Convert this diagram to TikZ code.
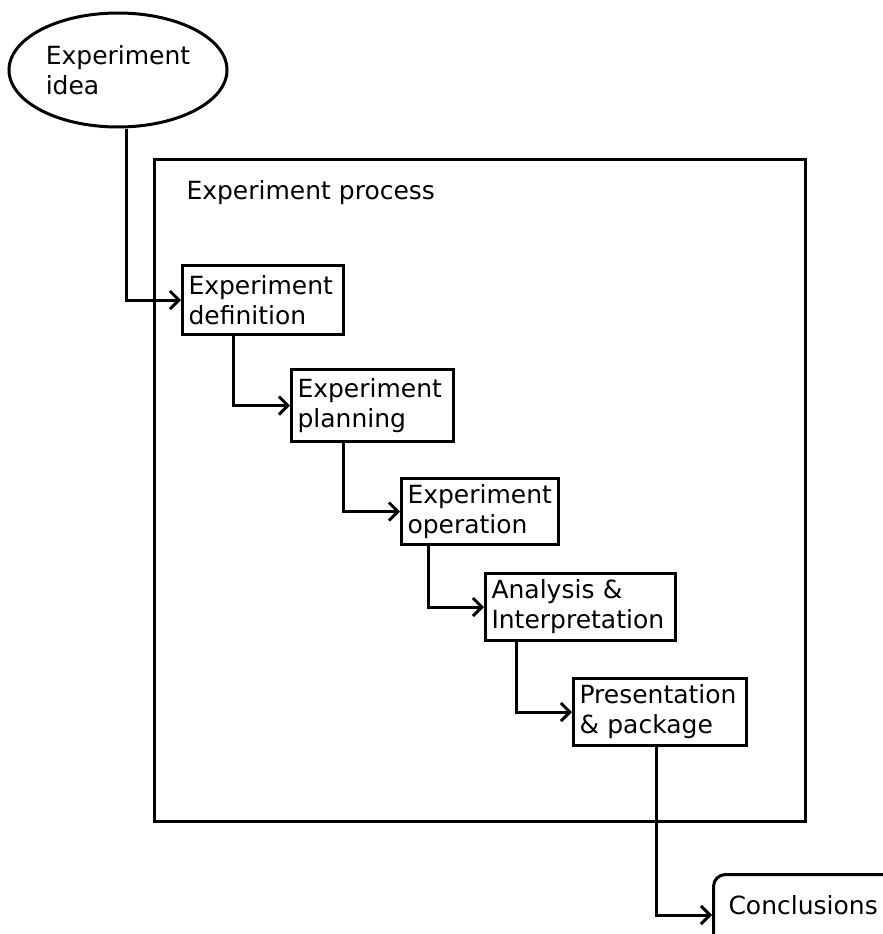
\documentclass[tikz,border=0pt]{standalone}
\usepackage{fontspec}
\setmainfont{DejaVu Sans}
\usetikzlibrary{shapes.geometric,arrows.meta}
\begin{document}
\begin{tikzpicture}[x=1pt, y=-1pt, line width=3pt,
  stage/.style={draw, anchor=north west, align=left, inner xsep=6pt, inner ysep=0pt},
  flow/.style={-{Straight Barb[length=9pt,width=18pt]}}]

  \fontsize{25}{30}\selectfont
  \clip (0,0) rectangle (883,934);

  \node[draw, ellipse, minimum width=218pt, minimum height=114pt, align=left, inner sep=0pt] (idea) at (118,70) {Experiment\\idea};

  \node[draw, anchor=north west, minimum width=651pt, minimum height=662pt] (process) at (153,158) {};
  \node[anchor=west, inner sep=0pt] (processlabel) at (185,193) {Experiment process};

  \node[stage, text width=149pt, minimum height=69pt] (def)  at (181,264) {Experiment\\definition};
  \node[stage, text width=150pt, minimum height=72pt] (plan) at (290,368) {Experiment\\planning};
  \node[stage, text width=145pt, minimum height=66pt] (oper) at (400,477) {Experiment\\operation};
  \node[stage, text width=178pt, minimum height=67pt] (anal) at (484,572) {Analysis \&\\Interpretation};
  \node[stage, text width=161pt, minimum height=67pt] (pres) at (572,677) {Presentation\\\& package};

  \node[draw, rounded corners=12pt, anchor=north west, align=left, text width=200pt,
        inner xsep=15pt, inner ysep=21pt, text depth=20pt] (concl) at (712,873) {Conclusions};

  \draw[flow] ([xshift=8pt]idea.south) |- (def.west);
  \draw[flow] ([xshift=52pt]def.south west) |- (plan.west); %% definition->planning
  \draw[flow] ([xshift=53pt]plan.south west) |- (oper.west);
  \draw[flow] ([xshift=28pt]oper.south west) |- (anal.west);
  \draw[flow] ([xshift=32pt]anal.south west) |- (pres.west);
  \draw[flow] ([xshift=84pt]pres.south west) |- (concl.west); %% package->conclusions
\end{tikzpicture}
\end{document}
